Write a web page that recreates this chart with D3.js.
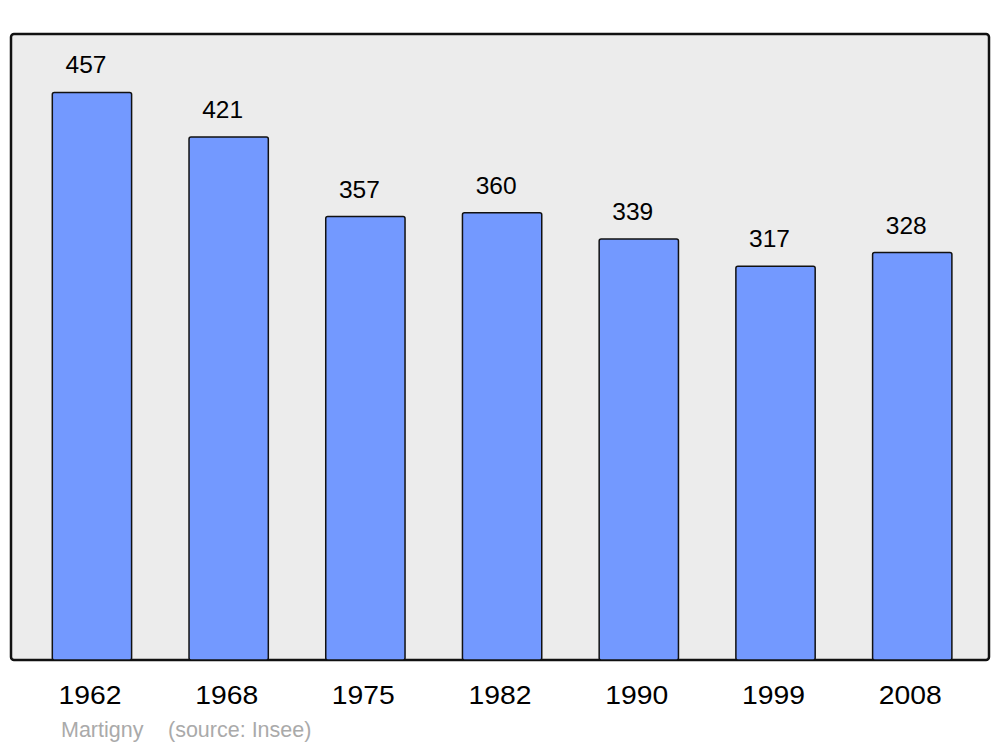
<!doctype html>
<html>
<head>
<meta charset="utf-8">
<title>Population Martigny</title>
<style>
  body { margin: 0; background: #fff; }
  text { font-family: "Liberation Sans", Arial, sans-serif; }
</style>
</head>
<body>
<script src="https://d3js.org/d3.v7.min.js"></script>
<script>
// data
var years = ["1962", "1968", "1975", "1982", "1990", "1999", "2008"];
var population = [457, 421, 357, 360, 339, 317, 328];
var footerTexts = ["Martigny", "(source: Insee)"];

var w = 1000, h = 747;

var svg = d3.select("body").append("svg")
    .attr("width", w)
    .attr("height", h);

// panel
var panel = { x0: 11, y0: 34, x1: 989, y1: 660 };

svg.append("rect")
    .attr("x", panel.x0)
    .attr("y", panel.y0)
    .attr("width", panel.x1 - panel.x0)
    .attr("height", panel.y1 - panel.y0)
    .attr("rx", 3)
    .attr("fill", "#ececec")
    .attr("stroke", "#111")
    .attr("stroke-width", 2.5);

// scales
var x = d3.scaleBand()
    .domain(years)
    .range([23.6, 980.6])
    .paddingInner(0.42)
    .paddingOuter(0.21);

var y = d3.scaleLinear()
    .domain([0, 504])
    .range([panel.y1, panel.y0]);

var data = years.map(function (yr, i) { return { year: yr, value: population[i] }; });

// bars
svg.append("g").selectAll("rect")
    .data(data)
    .enter()
    .append("rect")
    .attr("x", function (d) { return x(d.year); })
    .attr("y", function (d) { return y(d.value); })
    .attr("width", x.bandwidth())
    .attr("height", function (d) { return panel.y1 - y(d.value); })
    .attr("rx", 2)
    .attr("fill", "#7399ff")
    .attr("stroke", "#111")
    .attr("stroke-width", 1.5);

// value labels
svg.append("g").selectAll("text")
    .data(data)
    .enter()
    .append("text")
    .attr("x", function (d) { return x(d.year) + x.bandwidth() / 2 - 6; })
    .attr("y", function (d) { return y(d.value) - 19; })
    .attr("text-anchor", "middle")
    .attr("font-size", 24.5)
    .attr("fill", "#000")
    .text(function (d) { return d.value; });

// year labels
svg.append("g").selectAll("text")
    .data(years)
    .enter()
    .append("text")
    .attr("x", function (d) { return x(d) + x.bandwidth() / 2 - 2; })
    .attr("y", 704)
    .attr("text-anchor", "middle")
    .attr("font-size", 26)
    .attr("textLength", 63)
    .attr("lengthAdjust", "spacingAndGlyphs")
    .attr("fill", "#000")
    .text(function (d) { return d; });

// footer
svg.append("text")
    .attr("x", 61)
    .attr("y", 737)
    .attr("font-size", 21.5)
    .attr("fill", "#aaa")
    .text(footerTexts[0]);

svg.append("text")
    .attr("x", 168)
    .attr("y", 737)
    .attr("font-size", 21.5)
    .attr("fill", "#aaa")
    .text(footerTexts[1]);
</script>
</body>
</html>
